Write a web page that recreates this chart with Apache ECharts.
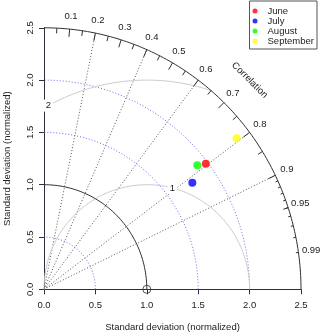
<!DOCTYPE html>
<html><head><meta charset="utf-8">
<script src="https://cdn.jsdelivr.net/npm/echarts@6/dist/echarts.min.js"></script>
<style>html,body{margin:0;padding:0;background:#fff}#c{width:320px;height:335px}</style>
</head><body><div id="c"></div>
<script>
// ---- data ----
const months = ['June', 'July', 'August', 'September'];
const monthColors = ['#ff0000', '#0000ff', '#00ff00', '#ffff00'];
const sdValues = [1.98, 1.766, 1.905, 2.366];      // normalized standard deviation
const corrValues = [0.795, 0.817, 0.783, 0.792];   // correlation
const axisTickValues = [0, 0.5, 1.0, 1.5, 2.0, 2.5];
const corrLabelValues = [0.1, 0.2, 0.3, 0.4, 0.5, 0.6, 0.7, 0.8, 0.9, 0.95, 0.99];
const corrLineValues = [0.2, 0.4, 0.6, 0.8, 0.9];
const bigTickValues = [0.1, 0.2, 0.3, 0.4, 0.5, 0.6, 0.7, 0.8, 0.9];
const medTickValues = [0.05, 0.15, 0.25, 0.35, 0.45, 0.55, 0.65, 0.75, 0.85, 0.95];
const smlTickValues = [0.91, 0.92, 0.93, 0.94, 0.95, 0.96, 0.97, 0.98, 0.99];
const sdArcValues = [0.5, 1.5, 2.0];
const rmsValues = [1, 2];
const refSd = 1.0;
const maxSd = 2.5;

// ---- helpers (geometry only) ----
const FONT = "'Liberation Sans', Arial, Helvetica, sans-serif";
const FS = 9.5;
const DARK = '#2f2f3a';
function polar(r, c) { return [r * c, r * Math.sqrt(Math.max(0, 1 - c * c))]; }
function arc(r, cx, t0, t1) {
  const pts = [], n = 120;
  for (let i = 0; i <= n; i++) { const t = t0 + (t1 - t0) * i / n; pts.push([cx + r * Math.cos(t), r * Math.sin(t)]); }
  return pts;
}
function lineSeries(data, color, type, width) {
  return { type: 'line', data, showSymbol: false, symbol: 'none', silent: true, clip: false, smooth: false,
    lineStyle: { color, type, width: width || 1 }, z: 2 };
}

const series = [];
// sd arcs (dotted blue)
sdArcValues.forEach(r => series.push(lineSeries(arc(r, 0, 0, Math.PI / 2), '#6b6bf0', [1, 2], 1)));
// rms arcs (gray)
rmsValues.forEach(g => {
  let cs = (maxSd * maxSd - refSd * refSd - g * g) / (2 * refSd * g);
  const t0 = cs >= 1 ? 0 : Math.acos(Math.max(-1, cs));
  const t1 = g > refSd ? Math.acos(-refSd / g) : Math.PI;
  series.push(lineSeries(arc(g, refSd, t0, t1), '#cccccc', 'solid', 1));
});
// reference sd arc and outer arc
series.push(lineSeries(arc(refSd, 0, 0, Math.PI / 2), DARK, 'solid', 1));
series.push(lineSeries(arc(maxSd, 0, 0, Math.PI / 2), DARK, 'solid', 1));
// correlation rays
series.push({ type: 'lines', coordinateSystem: 'cartesian2d', silent: true, polyline: false, z: 2,
  lineStyle: { color: '#555', type: [1, 2], width: 1, opacity: 1 },
  data: corrLineValues.map(c => ({ coords: [[0, 0], polar(maxSd, c)] })) });
// ticks on the outer arc
const tickSegs = [];
bigTickValues.forEach(c => tickSegs.push({ coords: [polar(maxSd, c), polar(maxSd * 0.97, c)] }));
medTickValues.forEach(c => tickSegs.push({ coords: [polar(maxSd, c), polar(maxSd * 0.98, c)] }));
smlTickValues.forEach(c => tickSegs.push({ coords: [polar(maxSd, c), polar(maxSd * 0.99, c)] }));
series.push({ type: 'lines', coordinateSystem: 'cartesian2d', silent: true, z: 3,
  lineStyle: { color: DARK, type: 'solid', width: 1, opacity: 1 }, data: tickSegs });
// correlation labels
series.push({ type: 'custom', coordinateSystem: 'cartesian2d', silent: true, z: 5,
  data: corrLabelValues.map(c => polar(maxSd * 1.05, c).concat([c])),
  renderItem: (p, api) => {
    const pt = api.coord([api.value(0), api.value(1)]);
    return { type: 'text', x: pt[0], y: pt[1],
      style: { text: String(api.value(2)), align: 'center', verticalAlign: 'middle', fontSize: FS, fontFamily: FONT, fill: '#222' } };
  } });
// "Correlation" title
series.push({ type: 'custom', coordinateSystem: 'cartesian2d', silent: true, z: 5,
  data: [[maxSd * 0.8, maxSd * 0.8]],
  renderItem: (p, api) => {
    const pt = api.coord([api.value(0), api.value(1)]);
    return { type: 'text', x: pt[0], y: pt[1], rotation: -Math.PI / 4,
      style: { text: 'Correlation', align: 'center', verticalAlign: 'middle', fontSize: FS, fontFamily: FONT, fill: '#222' } };
  } });
// rms labels
const rmsLabelAngles = [1.32, 2.07];
series.push({ type: 'custom', coordinateSystem: 'cartesian2d', silent: true, z: 6,
  data: rmsValues.map((g, i) => [refSd + g * Math.cos(rmsLabelAngles[i]), g * Math.sin(rmsLabelAngles[i]), g]),
  renderItem: (p, api) => {
    const pt = api.coord([api.value(0), api.value(1)]);
    return { type: 'text', x: pt[0], y: pt[1],
      style: { text: String(api.value(2)), align: 'center', verticalAlign: 'middle', fontSize: FS, fontFamily: FONT, fill: '#222',
        backgroundColor: '#fff', padding: [1, 2] } };
  } });
// reference point
series.push({ type: 'scatter', silent: true, clip: false, z: 7, symbol: 'circle', symbolSize: 8,
  itemStyle: { color: 'rgba(0,0,0,0)', borderColor: DARK, borderWidth: 1 }, data: [[refSd, 0]] });
// month points
months.forEach((m, i) => {
  series.push({ type: 'scatter', name: m, clip: false, z: 8, symbol: 'circle', symbolSize: 8,
    itemStyle: { color: monthColors[i] },
    data: [polar(sdValues[i], corrValues[i])] });
});

const axisCommon = {
  type: 'value', min: 0, max: maxSd, interval: 0.5,
  axisLine: { show: true, onZero: false, lineStyle: { color: DARK, width: 1 } },
  axisTick: { show: true, length: 5, lineStyle: { color: DARK } },
  splitLine: { show: false },
  nameLocation: 'middle',
  nameTextStyle: { fontSize: FS, fontFamily: FONT, color: '#222' },
  name: 'Standard deviation (normalized)'
};

const chart = echarts.init(document.getElementById('c'), null, { renderer: 'canvas' });
chart.setOption({
  animation: false,
  backgroundColor: '#fff',
  grid: { left: 44, right: 19, top: 27.8, bottom: 45.7, containLabel: false, outerBoundsMode: 'none' },
  xAxis: Object.assign({}, axisCommon, {
    nameGap: 33,
    axisLabel: { formatter: v => v.toFixed(1), fontSize: FS, fontFamily: FONT, color: '#222', margin: 11 }
  }),
  yAxis: Object.assign({}, axisCommon, {
    nameGap: 32,
    axisLabel: { formatter: v => v.toFixed(1), fontSize: FS, fontFamily: FONT, color: '#222', margin: 9, rotate: 90 }
  }),
  legend: {
    orient: 'vertical', right: 3, top: 1, align: 'left',
    data: months.map(m => ({ name: m, icon: 'circle' })),
    itemWidth: 5, itemHeight: 5, itemGap: 0,
    padding: [5, 3, 3, 3],
    borderColor: '#555', borderWidth: 1, backgroundColor: '#fff',
    textStyle: { fontSize: FS, fontFamily: FONT, color: '#222', lineHeight: 10, padding: [0, 0, 0, 5] },
    selectedMode: false
  },
  series
});
</script></body></html>
